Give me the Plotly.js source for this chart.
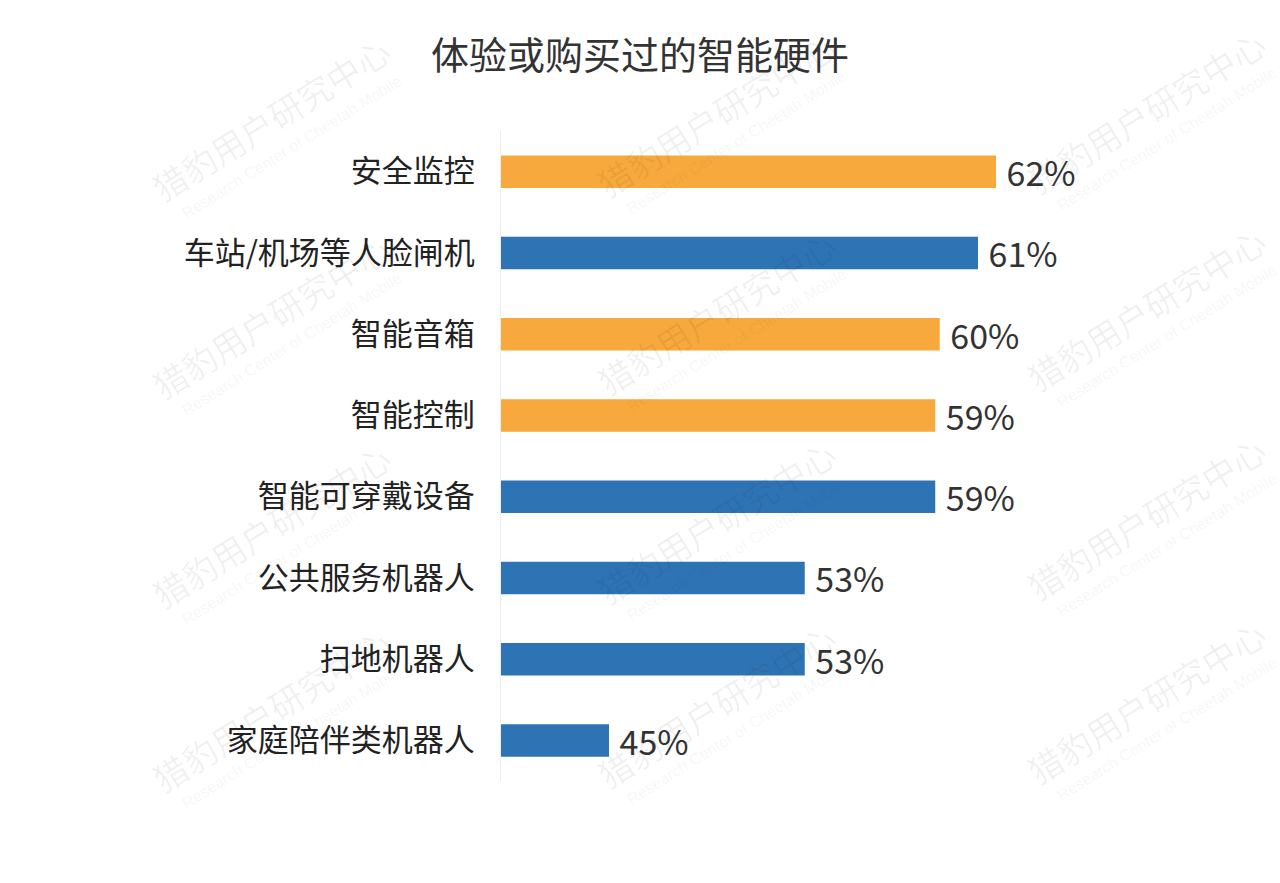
<!DOCTYPE html>
<html>
<head>
<meta charset="utf-8">
<script src="https://cdn.plot.ly/plotly-3.0.1.min.js"></script>
<style>html,body{margin:0;padding:0;background:#fff;}#chart{width:1280px;height:883px;}</style>
</head>
<body>
<div id="chart"></div>
<script>
const categories = ["安全监控","车站/机场等人脸闸机","智能音箱","智能控制","智能可穿戴设备","公共服务机器人","扫地机器人","家庭陪伴类机器人"];
const values = [62.0, 61.2, 59.5, 59.3, 59.3, 53.5, 53.5, 44.8];
const valueLabels = ["62%","61%","60%","59%","59%","53%","53%","45%"];
const barColors = ["#F7A93D","#2E74B5","#F7A93D","#F7A93D","#2E74B5","#2E74B5","#2E74B5","#2E74B5"];
const titleText = "体验或购买过的智能硬件";
const wmCN = "猎豹用户研究中心";
const wmEN = "Research Center of Cheetah Mobile";

const font = "'Noto Sans CJK SC', 'Noto Sans', sans-serif";

const trace = {
  type: "bar",
  orientation: "h",
  y: categories,
  x: values,
  text: valueLabels,
  texttemplate: " %{text}",
  textposition: "outside",
  constraintext: "none",
  cliponaxis: false,
  textfont: {family: font, size: 34, color: "#333333"},
  marker: {color: barColors},
  hoverinfo: "none"
};

// watermark grid
const annotations = [];
const colX = [271, 716, 1146];
const rowY = [119, 316, 525, 709];
colX.forEach((cx, ci) => {
  rowY.forEach(cy => {
    const y = cy - ci * 4;
    annotations.push({xref: "paper", yref: "paper", x: 0, y: 0, showarrow: false,
      text: wmCN, textangle: -32, font: {family: font, size: 34, color: "rgba(0,0,0,0.06)"},
      xanchor: "center", yanchor: "middle", _px: cx, _py: y});
    annotations.push({xref: "paper", yref: "paper", x: 0, y: 0, showarrow: false,
      text: wmEN, textangle: -32, font: {family: "Liberation Sans, sans-serif", size: 16, color: "rgba(0,0,0,0.05)"},
      xanchor: "center", yanchor: "middle", _px: cx + 20, _py: y + 28});
  });
});
// convert pixel positions to paper coords
const mL = 501, mR = 104, mT = 131, mB = 102, W = 1280, H = 883;
const pw = W - mL - mR, ph = H - mT - mB;
annotations.forEach(a => {
  a.x = (a._px - mL) / pw;
  a.y = 1 - (a._py - mT) / ph;
  delete a._px; delete a._py;
});

const layout = {
  width: W, height: H,
  margin: {l: mL, r: mR, t: mT, b: mB, pad: 0},
  paper_bgcolor: "#ffffff",
  plot_bgcolor: "#ffffff",
  showlegend: false,
  bargap: 0.6,
  title: {text: titleText, font: {family: font, size: 38, color: "#333333"}, x: 0.5, xref: "container", xanchor: "center", y: 0.937, yanchor: "middle"},
  xaxis: {range: [40, 70], showgrid: false, zeroline: false, showticklabels: false, ticks: "", showline: false, fixedrange: true},
  yaxis: {autorange: "reversed", showgrid: false, zeroline: false, ticks: "", showline: true, linecolor: "#ececec", linewidth: 1,
          tickfont: {family: font, size: 31, color: "#222222"}, ticklabelstandoff: 19, fixedrange: true},
  annotations: annotations
};

Plotly.newPlot("chart", [trace], layout, {displayModeBar: false, staticPlot: true});
</script>
</body>
</html>
